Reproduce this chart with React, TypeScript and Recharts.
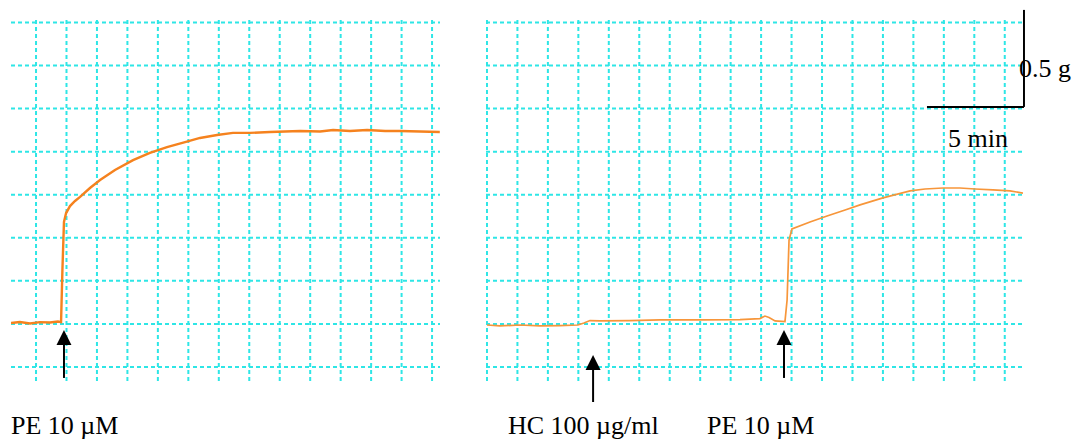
import { CartesianGrid, Line, LineChart, ReferenceLine, XAxis, YAxis } from 'recharts';

// time in min, tension in g (offset is arbitrary)
const leftTime = [
  0, 0.46, 0.98, 1.49, 2.01, 2.42, 2.58, 2.65, 2.73, 2.84, 3.04, 3.3, 3.56, 4.07, 4.59, 5.36, 6.29,
  7.16, 8.04, 8.97, 9.74, 10.62, 11.44, 12.32, 13.35, 14.9, 15.93, 16.6, 17.47, 18.35, 19.28,
  20.05, 21.08, 22.1,
];
const leftTension = [
  0.309, 0.314, 0.307, 0.314, 0.312, 0.317, 0.314, 0.582, 0.83, 0.876, 0.912, 0.938, 0.959,
  1.005, 1.046, 1.098, 1.149, 1.186, 1.216, 1.242, 1.263, 1.278, 1.289, 1.289, 1.294, 1.299,
  1.296, 1.304, 1.299, 1.304, 1.299, 1.299, 1.296, 1.294,
];

const rightTime = [
  0.05, 0.72, 1.75, 2.78, 3.81, 4.74, 5.05, 5.36, 5.88, 7.42, 8.97, 11.03, 13.09, 14.12, 14.38,
  14.59, 14.9, 15.41, 15.52, 15.62, 15.77, 16.7, 17.58, 18.51, 19.28, 20.46, 21.86, 22.63, 23.56,
  24.43, 25.21, 26.13, 27.01, 27.68,
];
const rightTension = [
  0.299, 0.294, 0.299, 0.294, 0.296, 0.299, 0.309, 0.322, 0.32, 0.322, 0.325, 0.325, 0.327, 0.332,
  0.345, 0.338, 0.32, 0.317, 0.428, 0.737, 0.794, 0.83, 0.861, 0.892, 0.918, 0.954, 0.99, 1.0,
  1.005, 1.005, 1.0, 0.995, 0.99, 0.979,
];

// drug additions (min) on each panel
const leftAdditions = [2.73];
const rightAdditions = [5.52, 15.36];

const labels = ['PE 10 µM', 'HC 100 µg/ml', 'PE 10 µM'];
const scaleLabels = ['0.5 g', '5 min'];
const scaleBar = { t0: 22.73, minutes: 5, g0: 1.423, grams: 0.5 };

const Y_SPAN = 1.871;
const LEFT_SPAN = 22.11;
const RIGHT_SPAN = 27.68;
const GRID_T = 1.57;
const GRID_G = 0.222;

const leftGridX = Array.from({ length: 14 }, (_, i) => 1.29 + i * GRID_T);
const rightGridX = Array.from({ length: 18 }, (_, i) => 0.05 + i * GRID_T);
const gridY = Array.from({ length: 9 }, (_, i) => 0.0825 + i * GRID_G);

const leftData = leftTime.map((t, i) => ({ t, g: leftTension[i] }));
const rightData = rightTime.map((t, i) => ({ t, g: rightTension[i] }));

const ARROW_TIP = [0.273, 0.144];
const ARROW_BASE = [0.026, -0.098];
const GRID = '#2ee6e6';
const FONT = "'Liberation Serif', 'Times New Roman', serif";

const Arrow = (props: any) => {
  const { x1, y1, y2 } = props;
  const tip = Math.min(y1, y2);
  const base = Math.max(y1, y2);
  return (
    <g>
      <line x1={x1} y1={base} x2={x1} y2={tip + 12} stroke="#000" strokeWidth={2} />
      <polygon points={`${x1},${tip} ${x1 - 7.5},${tip + 15} ${x1 + 7.5},${tip + 15}`} fill="#000" />
    </g>
  );
};

function Panel({ data, span, gridX, width, margin, stroke, lineWidth, children }: any) {
  const vGen = ({ xAxis, offset }: any) => {
    const s = xAxis?.scale;
    return gridX.map((v: number) =>
      typeof s === 'function' ? s(v) : offset.left + (v / span) * offset.width,
    );
  };
  const hGen = ({ yAxis, offset }: any) => {
    const s = yAxis?.scale;
    return gridY.map((v: number) =>
      typeof s === 'function' ? s(v) : offset.top + (1 - v / Y_SPAN) * offset.height,
    );
  };
  return (
    <LineChart width={width} height={441} data={data} margin={margin}>
      <XAxis type="number" dataKey="t" domain={[0, span]} hide allowDataOverflow />
      <YAxis type="number" domain={[0, Y_SPAN]} hide allowDataOverflow />
      <CartesianGrid
        stroke={GRID}
        strokeWidth={2}
        strokeDasharray="4 3"
        verticalCoordinatesGenerator={vGen}
        horizontalCoordinatesGenerator={hGen}
      />
      <Line
        type="linear"
        dataKey="g"
        stroke={stroke}
        strokeWidth={lineWidth}
        dot={false}
        isAnimationActive={false}
      />
      {children}
    </LineChart>
  );
}

export default function App() {
  return (
    <div style={{ position: 'absolute', left: 0, top: 0, width: 1075, height: 441, background: '#fff' }}>
      <div style={{ position: 'absolute', left: 0, top: 0 }}>
        <Panel
          data={leftData}
          span={LEFT_SPAN}
          gridX={leftGridX}
          width={440}
          margin={{ top: 20, right: 0, bottom: 58, left: 11 }}
          stroke="#f5821e"
          lineWidth={2.4}
        >
          {leftAdditions.map((t, i) => (
            <ReferenceLine
              key={i}
              segment={[{ x: t, y: ARROW_BASE[0] }, { x: t, y: ARROW_TIP[0] }]}
              ifOverflow="visible"
              shape={Arrow}
            />
          ))}
        </Panel>
      </div>
      <div style={{ position: 'absolute', left: 486, top: 0 }}>
        <Panel
          data={rightData}
          span={RIGHT_SPAN}
          gridX={rightGridX}
          width={589}
          margin={{ top: 20, right: 52, bottom: 58, left: 0 }}
          stroke="#f7963a"
          lineWidth={1.7}
        >
          {rightAdditions.map((t, i) => (
            <ReferenceLine
              key={i}
              segment={[
                { x: t, y: ARROW_BASE[i === 0 ? 1 : 0] },
                { x: t, y: ARROW_TIP[i === 0 ? 1 : 0] },
              ]}
              ifOverflow="visible"
              shape={Arrow}
            />
          ))}
          <ReferenceLine
            segment={[
              { x: scaleBar.t0, y: scaleBar.g0 },
              { x: scaleBar.t0 + scaleBar.minutes, y: scaleBar.g0 },
            ]}
            stroke="#000"
            strokeWidth={2}
            ifOverflow="visible"
          />
          <ReferenceLine
            segment={[
              { x: scaleBar.t0 + scaleBar.minutes, y: scaleBar.g0 },
              { x: scaleBar.t0 + scaleBar.minutes, y: scaleBar.g0 + scaleBar.grams },
            ]}
            stroke="#000"
            strokeWidth={2}
            ifOverflow="visible"
          />
        </Panel>
      </div>
      <svg
        width={1075}
        height={441}
        style={{ position: 'absolute', left: 0, top: 0, pointerEvents: 'none' }}
        fontFamily={FONT}
        fontSize={26}
        fill="#000"
      >
        <text x={11} y={434}>{labels[0]}</text>
        <text x={508} y={434}>{labels[1]}</text>
        <text x={707} y={434}>{labels[2]}</text>
        <text x={1019} y={77}>{scaleLabels[0]}</text>
        <text x={948} y={147}>{scaleLabels[1]}</text>
      </svg>
    </div>
  );
}
